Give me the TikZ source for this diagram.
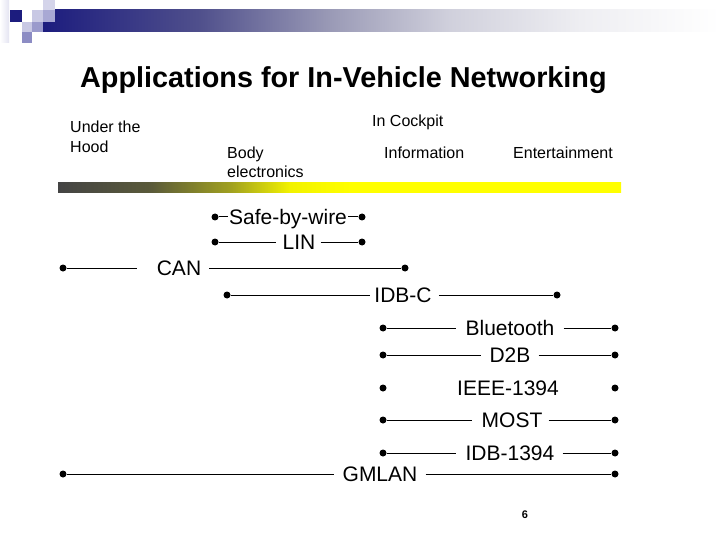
\documentclass[tikz,border=0pt]{standalone}
\usepackage{fontspec}
\setmainfont{Liberation Sans}
\definecolor{navy}{HTML}{1C1C7E}
\definecolor{tbA}{HTML}{50508C}
\definecolor{tbB}{HTML}{9A9AB6}
\definecolor{tbC}{HTML}{D0D0DC}
\definecolor{tbD}{HTML}{EEEEF2}
\definecolor{ybA}{HTML}{444444}
\definecolor{ybB}{HTML}{5A5A3A}
\definecolor{ybC}{HTML}{A0A020}
\definecolor{ybD}{HTML}{F2F200}
\definecolor{ybE}{HTML}{FFFF00}
\definecolor{sqLight}{HTML}{C8C8E4}
\definecolor{sqLight2}{HTML}{D4D4EA}
\definecolor{sqMid}{HTML}{A8A8D4}
\definecolor{sqMid2}{HTML}{9A9ACC}
\definecolor{sqMid3}{HTML}{8C8CC4}
\definecolor{sqPale}{HTML}{E4E4F2}
\pgfdeclarehorizontalshading{topbar}{100bp}{color(0bp)=(navy); color(25bp)=(navy); color(36.6bp)=(tbA); color(46.2bp)=(tbB); color(55bp)=(tbC); color(64.7bp)=(tbD); color(75bp)=(white); color(100bp)=(white)}
\pgfdeclarehorizontalshading{yellowbar}{100bp}{color(0bp)=(ybA); color(25bp)=(ybA); color(33.2bp)=(ybB); color(40.3bp)=(ybC); color(45.6bp)=(ybD); color(51bp)=(ybE); color(100bp)=(ybE)}
\begin{document}
\begin{tikzpicture}[x=1pt,y=-1pt,
  dot/.style={circle,fill=black,inner sep=0pt,minimum size=7pt},
  lbl/.style={font=\fontsize{21}{24}\selectfont,inner sep=0pt,anchor=base},
  hdr/.style={font=\fontsize{16}{19}\selectfont,inner sep=0pt,anchor=base west},
  wire/.style={line width=1pt}]
\useasboundingbox (0,0) rectangle (720,540);
\fill[white] (0,0) rectangle (720,540);
% top decoration
\shade[left color=white,right color=sqPale] (0,0) rectangle (9,43);
\shade[shading=topbar] (43,10) rectangle (720,32);
\fill[navy] (10,10) rectangle (22,22);
\fill[sqLight] (32,10) rectangle (43,22);
\fill[sqLight2] (43,0) rectangle (55,10);
\fill[sqMid] (43,10) rectangle (55,22);
\fill[sqLight] (22,22) rectangle (32,32);
\fill[sqMid2] (32,22) rectangle (43,32);
\fill[sqMid3] (22,32) rectangle (32,43);
% title
\node[font=\fontsize{28.8}{32}\selectfont\bfseries,inner sep=0pt,anchor=base west] (title) at (80,88) {Applications for In-Vehicle Networking};
% headers
\node[hdr] (h1a) at (70,133) {Under the};
\node[hdr] (h1b) at (70,153) {Hood};
\node[hdr] (h2) at (372,127) {In Cockpit};
\node[hdr] (h3a) at (227,159) {Body};
\node[hdr] (h3b) at (227,178) {electronics};
\node[hdr] (h4) at (384,159) {Information};
\node[hdr] (h5) at (513,159) {Entertainment};
% yellow bar
\shade[shading=yellowbar] (58,183) rectangle (621,193);
% rows
\node[dot] (sL) at (215,217) {};
\node[dot] (sR) at (362,217) {};
\node[lbl] (sT) at (288,224.5) {Safe-by-wire};
\draw[wire] (sL) -- ([xshift=-1pt]sT.west |- sL);
\draw[wire] ([xshift=1pt]sT.east |- sR) -- (sR);

\node[dot] (lL) at (215,242) {};
\node[dot] (lR) at (362,242) {};
\node[lbl] (lT) at (299,249.5) {LIN};
\draw[wire] (lL) -- ([xshift=-6pt]lT.west |- lL);
\draw[wire] ([xshift=5pt]lT.east |- lR) -- (lR);

\node[dot] (cL) at (63,268) {};
\node[dot] (cR) at (405,268) {};
\node[lbl] (cT) at (179,275.5) {CAN};
\draw[wire] (cL) -- ([xshift=-20pt]cT.west |- cL);
\draw[wire] ([xshift=8pt]cT.east |- cR) -- (cR);

\node[dot] (iL) at (227,295) {};
\node[dot] (iR) at (557,295) {};
\node[lbl] (iT) at (403,302.5) {IDB-C};
\draw[wire] (iL) -- ([xshift=-4pt]iT.west |- iL);
\draw[wire] ([xshift=7pt]iT.east |- iR) -- (iR);

\node[dot] (bL) at (383,328) {};
\node[dot] (bR) at (615,328) {};
\node[lbl] (bT) at (510,335.5) {Bluetooth};
\draw[wire] (bL) -- ([xshift=-9pt]bT.west |- bL);
\draw[wire] ([xshift=9pt]bT.east |- bR) -- (bR);

\node[dot] (dL) at (383,355) {};
\node[dot] (dR) at (615,355) {};
\node[lbl] (dT) at (510,362.5) {D2B};
\draw[wire] (dL) -- ([xshift=-8pt]dT.west |- dL);
\draw[wire] ([xshift=8pt]dT.east |- dR) -- (dR);

\node[dot] (eL) at (383,388) {};
\node[dot] (eR) at (615,388) {};
\node[lbl] (eT) at (508,395.5) {IEEE-1394};

\node[dot] (mL) at (383,420) {};
\node[dot] (mR) at (615,420) {};
\node[lbl] (mT) at (512,427.5) {MOST};
\draw[wire] (mL) -- ([xshift=-9pt]mT.west |- mL);
\draw[wire] ([xshift=6pt]mT.east |- mR) -- (mR);

\node[dot] (xL) at (383,453) {};
\node[dot] (xR) at (615,453) {};
\node[lbl] (xT) at (510,460.5) {IDB-1394};
\draw[wire] (xL) -- ([xshift=-9pt]xT.west |- xL);
\draw[wire] ([xshift=8pt]xT.east |- xR) -- (xR);

\node[dot] (gL) at (63,474) {};
\node[dot] (gR) at (615,474) {};
\node[lbl] (gT) at (380,481.5) {GMLAN};
\draw[wire] (gL) -- ([xshift=-8pt]gT.west |- gL);
\draw[wire] ([xshift=8pt]gT.east |- gR) -- (gR);
% page number
\node[font=\fontsize{11}{12}\selectfont\bfseries,inner sep=0pt] (pg) at (525,515) {6};
\end{tikzpicture}
\end{document}
